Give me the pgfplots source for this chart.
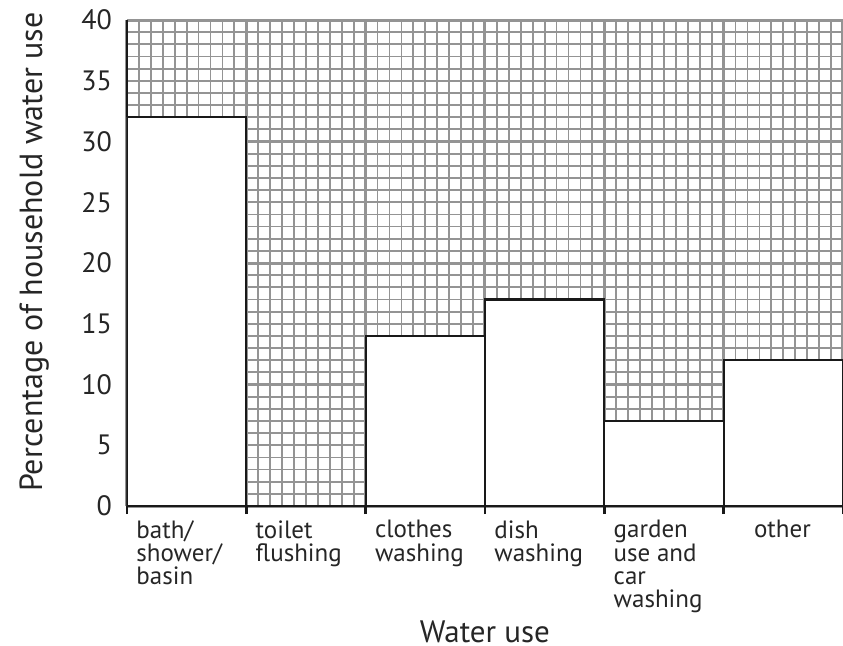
\documentclass[border=0pt]{standalone}
\usepackage{fontspec}
\setmainfont{PT Sans}
\usepackage{pgfplots}
\pgfplotsset{compat=1.18}
\begin{document}
\begin{tikzpicture}
\useasboundingbox (-63.5pt,-69.5pt) rectangle (358pt,253pt);
\begin{axis}[
 at={(0,0)}, anchor=south west,
 scale only axis, width=358pt, height=243pt,
 xmin=0, xmax=6, ymin=0, ymax=40,
 axis x line*=bottom, axis y line*=left,
 axis line style={line width=1.4pt, black!90, -},
 xtick={0,...,6}, minor x tick num=9,
 ytick={0,10,...,40}, minor y tick num=9,
 extra y ticks={5,15,25,35}, extra y tick style={grid=none},
 grid=both,
 major grid style={line width=1.5pt, black!42},
 minor grid style={line width=0.9pt, black!42},
 tick align=outside, major tick length=4pt, minor tick length=0pt,
 xtick style={black!90, line width=1.4pt},
 ytick style={draw=none},
 xticklabels={{bath/\\shower/\\basin},{toilet\\flushing},{clothes\\washing},{dish\\washing},{garden\\use and\\car\\washing},{\hspace*{10.5pt}other},{}},
 xticklabel style={anchor=north west, align=left, inner sep=0pt, xshift=4.5pt, yshift=-3pt, font=\fontsize{12.5}{11.6}\selectfont, text=black!85},
 yticklabel style={font=\fontsize{14}{14}\selectfont, text=black!85},
 /pgf/number format/assume math mode=true,
 xlabel={Water use}, ylabel={Percentage of household water use},
 xlabel style={at={(axis description cs:0.5,0)}, anchor=north, inner sep=0pt, yshift=-57pt, font=\fontsize{15.5}{15.5}\selectfont, text=black!85},
 ylabel style={at={([xshift=-54pt]axis description cs:0,0.5226)}, anchor=north, inner sep=0pt, rotate=0, font=\fontsize{16}{16}\selectfont, text=black!85},
]
\addplot[ybar interval, fill=white, draw=black!90, line width=1.1pt] coordinates {(0,32) (1,0) (2,14) (3,17) (4,7) (5,12) (6,12)};
\end{axis}
\end{tikzpicture}
\end{document}
